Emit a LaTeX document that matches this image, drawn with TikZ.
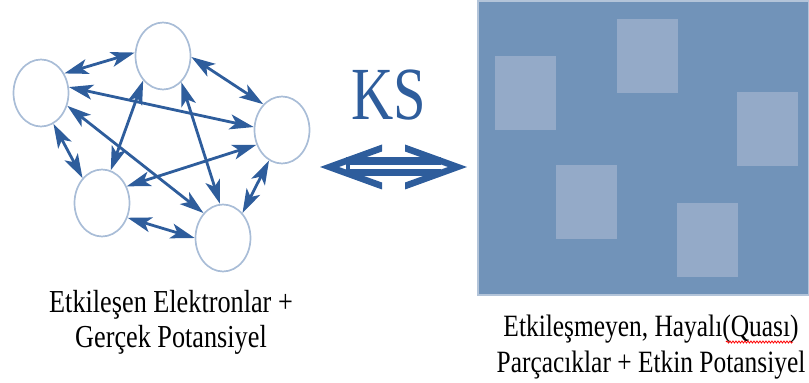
\documentclass[tikz,border=0pt]{standalone}
\usepackage{fontspec}
\usetikzlibrary{arrows.meta,shapes.geometric,decorations.pathmorphing}

\setmainfont{Liberation Serif}
\newfontfamily\narrowserif{Liberation Serif}[FakeStretch=0.82]

\definecolor{linkblue}{HTML}{2E5D9C}
\definecolor{ringblue}{HTML}{A9BDD7}
\definecolor{boxblue}{HTML}{7193B9}
\definecolor{quasiblue}{HTML}{94AAC8}
\definecolor{edgeblue}{HTML}{B3C4D9}

\tikzset{
  electron/.style={ellipse, draw=ringblue, line width=1.7pt,
    minimum width=55pt, minimum height=67pt, inner sep=0pt},
  link/.style={linkblue, line width=2.8pt,
    {Stealth[length=24pt,width=15pt,inset=6pt]}-{Stealth[length=24pt,width=15pt,inset=6pt]}},
  caption/.style={font=\narrowserif\fontsize{32}{35}\selectfont,
    align=center, inner sep=0pt, anchor=north},
}

\begin{document}
\begin{tikzpicture}[x=1pt,y=1pt]
    \useasboundingbox (0,0) rectangle (809,383);

    % 五个电子
    \node[electron] (e1) at (41,290) {};
    \node[electron] (e2) at (163,327) {};
    \node[electron] (e3) at (282,253) {};
    \node[electron] (e4) at (102,180) {};
    \node[electron] (e5) at (223,145) {};

    % 电子之间两两相互作用
    \draw[link] (e1.40) -- (e2.173);
    \draw[link] (e2.-2) -- (e3.126);
    \draw[link] (e1.12) -- (e3.174);
    \draw[link] (e1.-26) -- (e5.128);
    \draw[link] (e2.231) -- (e4.75);
    \draw[link] (e2.305) -- (e5.95);
    \draw[link] (e4.34) -- (e3.210);
    \draw[link] (e1.292) -- (e4.128);
    \draw[link] (e3.247) -- (e5.52);
    \draw[link] (e4.330) -- (e5.180);

    \node[caption] (realcap) at (171,93)
        {Etkileşen Elektronlar +\\Gerçek Potansiyel};

    % KS 映射
    \node[font=\fontsize{75}{75}\selectfont, text=linkblue,
        inner sep=0pt] (ks) at (389,288) {\scalebox{0.78}[1]{KS}};
    \coordinate (ksl) at (320,216);
    \coordinate (ksr) at (467,216);
    \draw[linkblue, line width=19pt, shorten <=26pt, shorten >=26pt] (ksl) -- (ksr);
    \draw[white, line width=4pt, shorten <=30pt, shorten >=26pt] (ksl) -- (ksr);
    % 两端的箭头
    \fill[linkblue] (ksl) -- ++(62,22.5) -- ++(0,-7) -- ++(-43,-15.5)
        -- ++(43,-15.5) -- ++(0,-7) -- cycle;
    \fill[linkblue] (ksr) -- ++(-62,22.5) -- ++(0,-7) -- ++(43,-15.5)
        -- ++(-43,-15.5) -- ++(0,-7) -- cycle;

    % 准粒子所在的盒子
    \fill[boxblue] (478,88) rectangle (809,382);
    \draw[edgeblue, line width=1.5pt] (478,88) rectangle (809,382);
    \foreach \x/\y in {495/253, 617/290, 737/217, 556/144, 677/106}
        \fill[quasiblue] (\x,\y) rectangle ++(61,74);

    \node[caption, font=\narrowserif\fontsize{31}{36}\selectfont] (quasicap) at (651,68)
        {Etkileşmeyen, Hayalı(Quası)\\Parçacıklar + Etkin Potansiyel};
    \draw[red, line width=0.8pt, decorate,
        decoration={snake, amplitude=1pt, segment length=3pt}] (726,41) -- (793,41);

\end{tikzpicture}
\end{document}
